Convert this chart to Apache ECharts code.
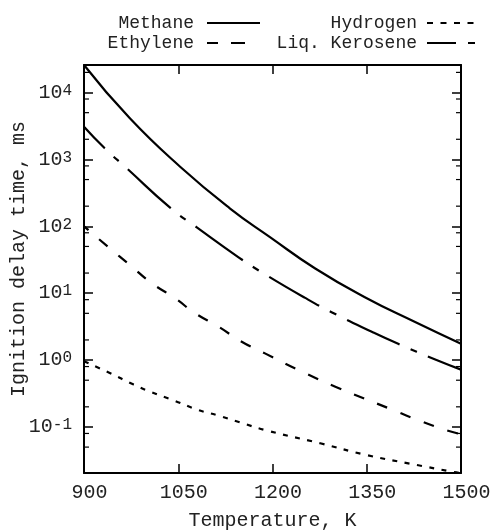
<!DOCTYPE html>
<html><head><meta charset="utf-8">
<script src="https://cdn.jsdelivr.net/npm/echarts@6/dist/echarts.min.js"></script>
<style>html,body{margin:0;padding:0;background:#fff}#c{width:493px;height:530px}</style>
</head><body><div id="c"></div>
<script>
// ---- data ----
const xTicks = [900, 1050, 1200, 1350, 1500];
const methaneData = [[900,25800],[973,4110],[1053,778],[1132,186],[1196,69],[1268,23.4],[1347,8.7],[1427,3.7],[1500,1.75]];
const ethyleneData = [[900,100],[941,46.9],[973,26.4],[1008,14.1],[1045,8.4],[1077,5.0],[1114,3.16],[1151,1.88],[1188,1.26],[1250,0.65],[1300,0.40],[1392,0.179],[1424,0.135],[1472,0.0925],[1500,0.078]];
const hydrogenData = [[900,0.96],[941,0.64],[979,0.43],[1005,0.337],[1045,0.245],[1082,0.179],[1111,0.151],[1148,0.1175],[1188,0.090],[1276,0.057],[1350,0.038],[1430,0.027],[1485,0.0215],[1500,0.0205]];
const keroseneData = [[900,3080],[933,1466],[968,737],[1037,190],[1079,97],[1146,34.4],[1188,19.2],[1252,8.5],[1294,5.2],[1358,2.65],[1400,1.75],[1459,1.02],[1500,0.72]];
const minorTickValues = [20000,8000,5000,2000,800,500,200,80,50,20,8,5,2,0.8,0.5,0.2,0.08,0.05];
const xMin = 900, xMax = 1500, yMin = 0.0205, yMax = 25800;

const FONT = 'Liberation Mono';
const TXT = '#222';
const chart = echarts.init(document.getElementById('c'), null, {renderer:'canvas'});

const axisLine = {show:true, lineStyle:{color:'#000', width:2}};
const axisTick = {show:true, inside:true, length:9, lineStyle:{color:'#000', width:1.5}};

function supLabel(v){
  const l = Math.log10(v); const r = Math.round(l);
  if (Math.abs(l - r) > 1e-6) return '';
  return '{b|10}{s|' + r + '}';
}

const legendBase = (name, right, top, w, pad, extra) => Object.assign({
  data:[name], right:right, top:top, align:'right', orient:'horizontal',
  itemWidth:w, itemHeight:14, selectedMode:false, padding:0,
  itemStyle:{opacity:0, borderWidth:0},
  textStyle:{fontSize:18, fontFamily:FONT, color:TXT, padding:[0,pad,0,0]}
}, extra||{});

chart.setOption({
  animation:false,
  backgroundColor:'#fff',
  grid:{left:84, right:32, top:65, bottom:57, containLabel:false, outerBoundsMode:'none'},
  legend:[
    legendBase('Methane', 232, 14, 53, 8),
    legendBase('Ethylene', 232, 34, 53, 8, {lineStyle:{type:[11,13,14,20], dashOffset:0}}),
    legendBase('Hydrogen', 15, 14, 50, 5, {lineStyle:{type:[6,7.5], dashOffset:0}}),
    legendBase('Liq. Kerosene', 15, 34, 50, 5, {lineStyle:{type:[29,12,7,12], dashOffset:0}})
  ],
  xAxis:[
    {type:'value', position:'bottom', min:xMin, max:xMax, interval:150,
     name:'Temperature, K', nameLocation:'middle', nameGap:38, nameMoveOverlap:false,
     nameTextStyle:{fontSize:20, fontFamily:FONT, color:TXT},
     axisLine:axisLine, axisTick:axisTick, splitLine:{show:false},
     axisLabel:{fontSize:20, fontFamily:FONT, color:TXT, margin:10, padding:[0,0,0,11],
       formatter:v => xTicks.indexOf(v) >= 0 ? String(v) : ''}},
    {type:'value', position:'top', min:xMin, max:xMax, interval:150,
     axisLine:axisLine, axisTick:axisTick, splitLine:{show:false}, axisLabel:{show:false}}
  ],
  yAxis:[
    {type:'log', logBase:10, position:'left', min:yMin, max:yMax,
     name:'Ignition delay time, ms', nameLocation:'middle', nameGap:55, nameMoveOverlap:false,
     nameTextStyle:{fontSize:20, fontFamily:FONT, color:TXT, padding:[0,0,0,20]},
     axisLine:axisLine, axisTick:axisTick, splitLine:{show:false}, minorTick:{show:false},
     axisLabel:{margin:12, color:TXT, fontFamily:FONT, formatter:supLabel,
       rich:{
         b:{fontSize:20, fontFamily:FONT, color:TXT, lineHeight:20, verticalAlign:'bottom', padding:[7,0,0,0]},
         s:{fontSize:16, fontFamily:FONT, color:TXT, lineHeight:16, verticalAlign:'top'}
       }}},
    {type:'log', logBase:10, position:'right', min:yMin, max:yMax,
     axisLine:axisLine, axisTick:axisTick, splitLine:{show:false}, axisLabel:{show:false}}
  ],
  series:[
    {name:'Methane', type:'line', data:methaneData, symbol:'none', smooth:0.5,
     lineStyle:{color:'#000', width:2.2, type:'solid'}, itemStyle:{color:'#000'}},
    {name:'Ethylene', type:'line', data:ethyleneData, symbol:'none', smooth:0.5,
     lineStyle:{color:'#000', width:2.2, type:[11,14], dashOffset:5}, itemStyle:{color:'#000'}},
    {name:'Hydrogen', type:'line', data:hydrogenData, symbol:'none', smooth:0.5,
     lineStyle:{color:'#000', width:2.2, type:[5,7.5]}, itemStyle:{color:'#000'}},
    {name:'Liq. Kerosene', type:'line', data:keroseneData, symbol:'none', smooth:0.5,
     lineStyle:{color:'#000', width:2.2, type:[58,12,7,12], dashOffset:28}, itemStyle:{color:'#000'}},
    {name:'minor', type:'custom', silent:true, z:5,
     data:minorTickValues.map(v => [xMin, v]),
     renderItem:function(params, api){
       const v = api.value(1);
       const l = api.coord([xMin, v]); const r = api.coord([xMax, v]);
       return {type:'group', children:[
         {type:'line', shape:{x1:l[0], y1:l[1], x2:l[0]+5, y2:l[1]}, style:{stroke:'#000', lineWidth:1.2}},
         {type:'line', shape:{x1:r[0]-5, y1:r[1], x2:r[0], y2:r[1]}, style:{stroke:'#000', lineWidth:1.2}}
       ]};
     }}
  ]
});
</script>
</body></html>
